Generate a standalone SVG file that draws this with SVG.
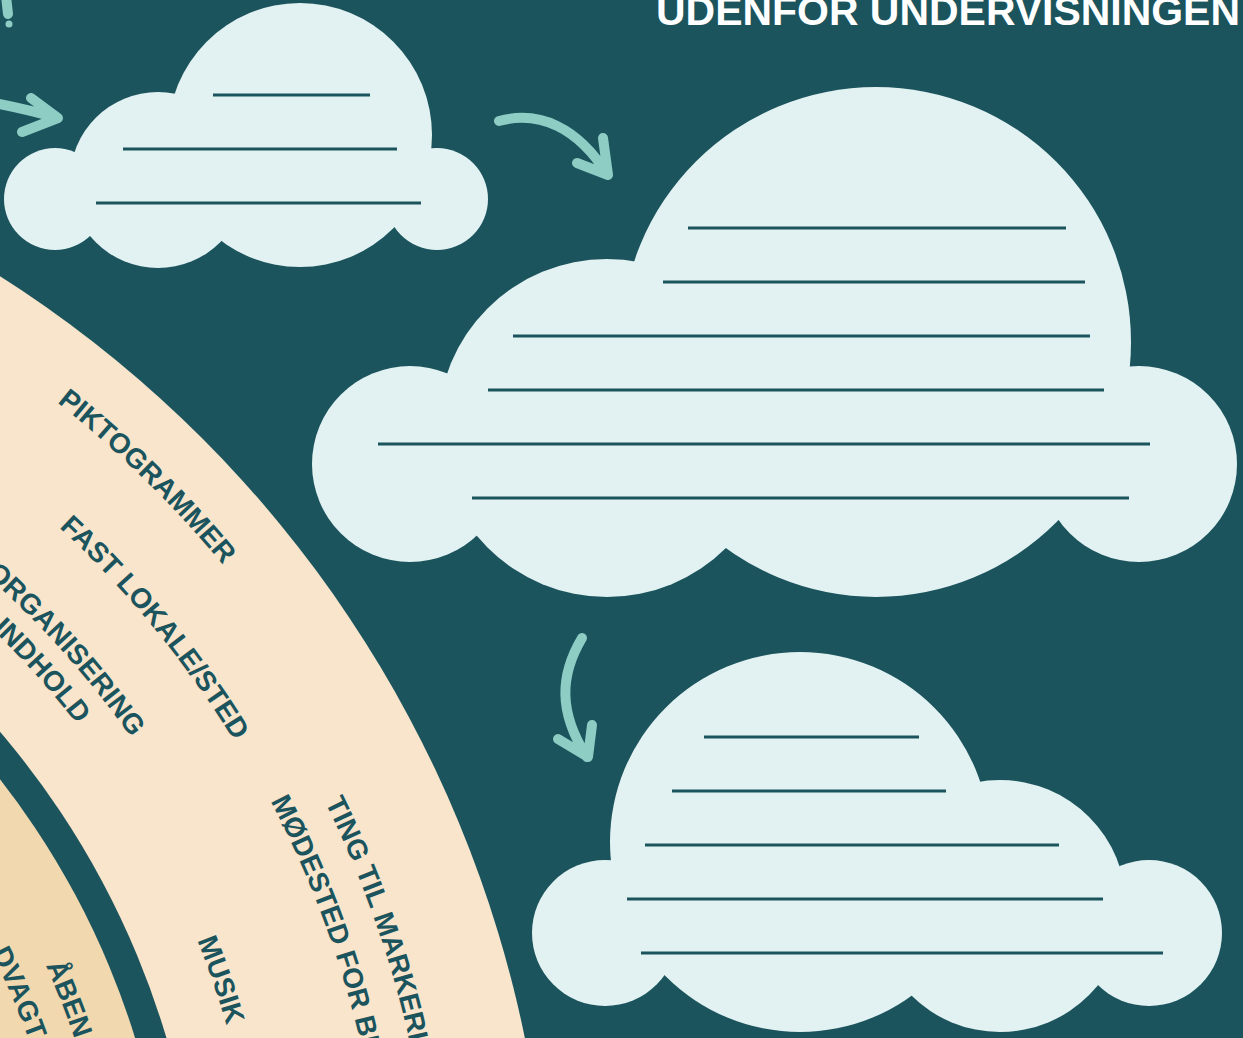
<svg xmlns="http://www.w3.org/2000/svg" width="1243" height="1038" viewBox="0 0 1243 1038">
<defs>
<style>
.bg{fill:#1b545d}
.beige{fill:#f8e5cc}
.tan{fill:#f2d8ae}
.cloud circle{fill:#e2f2f2}
.cline{stroke:#1b545d;stroke-width:3;fill:none}
.arrow{stroke:#8dcdc4;stroke-width:10;fill:none;stroke-linecap:round;stroke-linejoin:round}
.lbl{font-family:"Liberation Sans",Arial,sans-serif;font-weight:bold;font-size:28px;fill:#1b545d}
.title{font-family:"Liberation Sans",Arial,sans-serif;font-weight:bold;font-size:40px;fill:#ffffff}
</style>
<path id="p-pikto" d="M-358.7,196 A1115,1115 0 0 1 438,976.2"/>
<path id="p-fast" d="M-275.7,320.1 A1021.5,1021.5 0 0 1 371.9,1110"/>
<path id="p-org" d="M-342.8,386 A937,937 0 0 1 281.3,1084.9"/>
<path id="p-ind" d="M-353.9,419.8 A901.5,901.5 0 0 1 246.6,1092.1"/>
<path id="p-mod" d="M270.5,801 A1023.4,1023.4 0 0 1 365,1488.8"/>
<path id="p-ting" d="M325,802.1 A1071.5,1071.5 0 0 1 412.1,1498.8"/>
<path id="p-musik" d="M197.2,940.4 A898.2,898.2 0 0 1 242.5,1462.7"/>
<path id="p-aben" d="M45.6,965.4 A749,749 0 0 1 96.6,1431.7"/>
<path id="p-dvagt" d="M-9.1,952.5 A705.5,705.5 0 0 1 54.1,1422.7"/>
</defs>
<rect class="bg" x="0" y="0" width="1243" height="1038"/>

<g id="rings">
<circle class="beige" cx="-636" cy="1276" r="1185"/>
<circle class="bg" cx="-636" cy="1276" r="837"/>
<circle class="tan" cx="-636" cy="1276" r="807"/>
</g>

<g id="labels">
<text class="lbl"><textPath href="#p-pikto" startOffset="50%" text-anchor="middle">PIKTOGRAMMER</textPath></text>
<text class="lbl"><textPath href="#p-fast" startOffset="50%" text-anchor="middle">FAST LOKALE/STED</textPath></text>
<text class="lbl"><textPath href="#p-org" startOffset="50%" text-anchor="middle">ORGANISERING</textPath></text>
<text class="lbl"><textPath href="#p-ind" startOffset="50%" text-anchor="middle">INDHOLD</textPath></text>
<text class="lbl"><textPath href="#p-mod">MØDESTED FOR BE</textPath></text>
<text class="lbl"><textPath href="#p-ting">TING TIL MARKERI</textPath></text>
<text class="lbl"><textPath href="#p-musik">MUSIK</textPath></text>
<text class="lbl"><textPath href="#p-aben">ÅBEN</textPath></text>
<text class="lbl"><textPath href="#p-dvagt">DVAGT</textPath></text>
</g>

<g id="cloud-1" class="cloud">
<circle cx="300" cy="135" r="132"/>
<circle cx="158" cy="180" r="88"/>
<circle cx="55" cy="199" r="51"/>
<circle cx="437" cy="199" r="51"/>
<line class="cline" x1="213" y1="95" x2="370" y2="95"/>
<line class="cline" x1="123" y1="149" x2="397" y2="149"/>
<line class="cline" x1="96" y1="203" x2="421" y2="203"/>
</g>

<g id="cloud-2" class="cloud">
<circle cx="876" cy="342" r="255"/>
<circle cx="607" cy="428" r="169"/>
<circle cx="410" cy="464" r="98"/>
<circle cx="1139" cy="464" r="98"/>
<line class="cline" x1="688" y1="228" x2="1066" y2="228"/>
<line class="cline" x1="663" y1="282" x2="1085" y2="282"/>
<line class="cline" x1="513" y1="336" x2="1090" y2="336"/>
<line class="cline" x1="488" y1="390" x2="1104" y2="390"/>
<line class="cline" x1="378" y1="444" x2="1150" y2="444"/>
<line class="cline" x1="472" y1="498" x2="1129" y2="498"/>
</g>

<g id="cloud-3" class="cloud">
<circle cx="800" cy="842" r="190"/>
<circle cx="1000" cy="906" r="126"/>
<circle cx="605" cy="933" r="73"/>
<circle cx="1149" cy="933" r="73"/>
<line class="cline" x1="704" y1="737" x2="919" y2="737"/>
<line class="cline" x1="672" y1="791" x2="946" y2="791"/>
<line class="cline" x1="645" y1="845" x2="1059" y2="845"/>
<line class="cline" x1="627" y1="899" x2="1103" y2="899"/>
<line class="cline" x1="641" y1="953" x2="1163" y2="953"/>
</g>

<g id="connectors">
<path class="arrow" d="M6,-4 L8,14"/>
<circle cx="9" cy="24" r="3.5" fill="#8dcdc4"/>
<path class="arrow" d="M-6,103 C20,108 40,113 57,118 M31,98 L58,118 L22,132"/>
<path class="arrow" d="M499,121 C540,110 578,128 607,174 M603,138 L608,175 L577,163"/>
<path class="arrow" d="M582,638 C560,675 558,712 587,757 M592,725 L588,757 L558,739"/>
</g>

<g id="title">
<text class="title" x="656" y="25" textLength="584" lengthAdjust="spacingAndGlyphs">UDENFOR UNDERVISNINGEN</text>
</g>
</svg>
